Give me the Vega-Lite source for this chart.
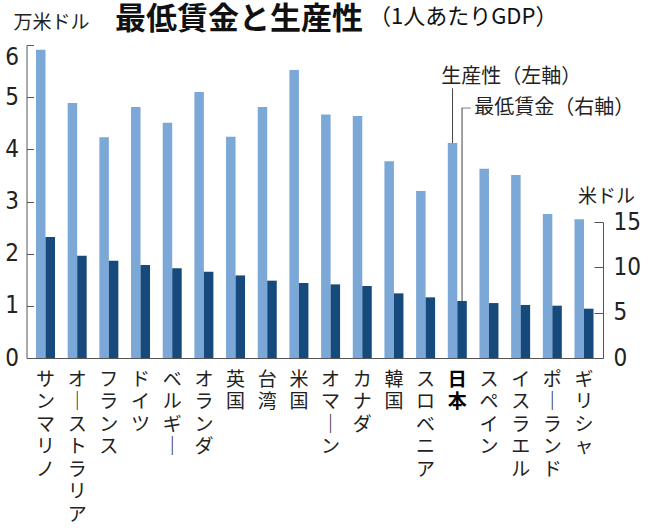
{
  "$schema": "https://vega.github.io/schema/vega-lite/v6.json",
  "autosize": "none",
  "width": 576.5,
  "height": 313,
  "padding": {"left": 26.5, "top": 45, "right": 47, "bottom": 170},
  "background": "white",
  "config": {"font": "Noto Sans CJK JP", "view": {"stroke": null}},
  "title": {
    "text": "最低賃金と生産性",
    "anchor": "start",
    "frame": "group",
    "dx": 88.5,
    "offset": -31,
    "font": "Noto Sans CJK JP",
    "fontSize": 31,
    "fontWeight": "bold",
    "color": "#111"
  },
  "datasets": {
    "main": [
      {"country": "サンマリノ", "productivity": 5.91, "wage": 13.34},
      {"country": "オーストラリア", "productivity": 4.89, "wage": 11.28},
      {"country": "フランス", "productivity": 4.23, "wage": 10.73},
      {"country": "ドイツ", "productivity": 4.81, "wage": 10.25},
      {"country": "ベルギー", "productivity": 4.51, "wage": 9.89},
      {"country": "オランダ", "productivity": 5.10, "wage": 9.52},
      {"country": "英国", "productivity": 4.24, "wage": 9.11},
      {"country": "台湾", "productivity": 4.81, "wage": 8.53},
      {"country": "米国", "productivity": 5.52, "wage": 8.27},
      {"country": "オマーン", "productivity": 4.67, "wage": 8.12},
      {"country": "カナダ", "productivity": 4.64, "wage": 7.94},
      {"country": "韓国", "productivity": 3.77, "wage": 7.13},
      {"country": "スロベニア", "productivity": 3.20, "wage": 6.69},
      {"country": "日本", "productivity": 4.12, "wage": 6.29},
      {"country": "スペイン", "productivity": 3.63, "wage": 6.06},
      {"country": "イスラエル", "productivity": 3.51, "wage": 5.85},
      {"country": "ポーランド", "productivity": 2.76, "wage": 5.77},
      {"country": "ギリシャ", "productivity": 2.66, "wage": 5.44}
    ]
  },
  "data": {"name": "main"},
  "encoding": {
    "x": {
      "field": "country",
      "type": "nominal",
      "sort": null,
      "scale": {"paddingInner": 0.4, "paddingOuter": 0.3},
      "axis": {
        "title": "（1人あたりGDP）",
        "titleFont": "Noto Sans CJK JP",
        "titleFontSize": 22,
        "titleFontWeight": "normal",
        "titleColor": "#111",
        "titleAlign": "left",
        "titleBaseline": "middle",
        "titleAngle": 0,
        "titleX": 342,
        "titleY": -342,
        "ticks": false,
        "domainColor": "#555",
        "domainWidth": 1,
        "labelAngle": 0,
        "labelAlign": "center",
        "labelBaseline": "top",
        "labelPadding": 12,
        "labelFontSize": 19,
        "labelLineHeight": 22.5,
        "labelFont": "Noto Sans CJK JP",
        "labelOverlap": false,
        "labelLimit": 0,
        "labelExpr": "split(join(split(datum.label, 'ー'), '｜'), '')",
        "labelColor": {"condition": {"test": "datum.value === '日本'", "value": "#000"}, "value": "#222"},
        "labelFontWeight": {"condition": {"test": "datum.value === '日本'", "value": "bold"}, "value": "normal"}
      }
    }
  },
  "layer": [
    {
      "layer": [
        {
          "mark": {"type": "bar", "width": 9.5, "xOffset": -4.75, "color": "#7ca8d7"},
          "encoding": {
            "y": {
              "field": "productivity",
              "type": "quantitative",
              "scale": {"domain": [0, 6], "nice": false},
              "axis": {
                "title": "万米ドル",
                "titleAngle": 0,
                "titleAlign": "left",
                "titleBaseline": "middle",
                "titleX": -13.5,
                "titleY": -23,
                "titleFontSize": 19,
                "titleFontWeight": "normal",
                "titleFont": "Noto Sans CJK JP",
                "titleColor": "#222",
                "values": [0, 1, 2, 3, 4, 5, 6],
                "grid": false,
                "tickSize": -7,
                "tickColor": "#555",
                "domainColor": "#555",
                "labelFont": "Liberation Sans Narrow, DejaVu Sans Condensed, sans-serif",
                "labelFontSize": 24,
                "labelPadding": 15,
                "labelColor": "#222",
                "labelBaseline": {"condition": {"test": "datum.value === 6", "value": "top"}, "value": "middle"}
              }
            }
          }
        },
        {
          "transform": [{"filter": "datum.country === '日本'"}],
          "mark": {"type": "rule", "xOffset": -4.75, "color": "#444", "strokeWidth": 1},
          "encoding": {
            "y": {"field": "productivity", "type": "quantitative", "scale": {"domain": [0, 6], "nice": false}},
            "y2": {"datum": 5.17}
          }
        },
        {
          "transform": [{"filter": "datum.country === '日本'"}],
          "mark": {"type": "text", "align": "left", "baseline": "middle", "dx": -16, "fontSize": 20, "color": "#222", "font": "Noto Sans CJK JP"},
          "encoding": {
            "y": {"datum": 5.38, "type": "quantitative", "scale": {"domain": [0, 6], "nice": false}},
            "text": {"value": "生産性（左軸）"}
          }
        },
        {
          "transform": [{"filter": "datum.country === '日本'"}],
          "mark": {"type": "text", "align": "left", "baseline": "middle", "dx": 17, "fontSize": 20, "color": "#222", "font": "Noto Sans CJK JP"},
          "encoding": {
            "y": {"datum": 4.79, "type": "quantitative", "scale": {"domain": [0, 6], "nice": false}},
            "text": {"value": "最低賃金（右軸）"}
          }
        }
      ]
    },
    {
      "layer": [
        {
          "mark": {"type": "bar", "width": 9.5, "xOffset": 4.75, "color": "#174a7c"},
          "encoding": {
            "y": {
              "field": "wage",
              "type": "quantitative",
              "scale": {"domain": [0, 15], "range": [313, 177], "nice": false},
              "axis": {
                "orient": "right",
                "title": "米ドル",
                "titleAngle": 0,
                "titleAlign": "center",
                "titleBaseline": "middle",
                "titleX": 3,
                "titleY": 151,
                "titleFontSize": 19,
                "titleFontWeight": "normal",
                "titleFont": "Noto Sans CJK JP",
                "titleColor": "#222",
                "values": [0, 5, 10, 15],
                "grid": false,
                "tickSize": -9,
                "tickColor": "#555",
                "domainColor": "#555",
                "labelFont": "Liberation Sans Narrow, DejaVu Sans Condensed, sans-serif",
                "labelFontSize": 24,
                "labelPadding": 19,
                "labelColor": "#222",
                "labelBaseline": "middle"
              }
            }
          }
        },
        {
          "transform": [{"filter": "datum.country === '日本'"}],
          "mark": {"type": "rule", "xOffset": 4.75, "color": "#444", "strokeWidth": 1},
          "encoding": {
            "y": {"field": "wage", "type": "quantitative", "scale": {"domain": [0, 15], "range": [313, 177], "nice": false}},
            "y2": {"datum": 27.57}
          }
        },
        {
          "transform": [{"filter": "datum.country === '日本'"}],
          "mark": {"type": "tick", "orient": "horizontal", "size": 9, "thickness": 1, "xOffset": 9, "color": "#444"},
          "encoding": {
            "y": {"datum": 27.57, "type": "quantitative", "scale": {"domain": [0, 15], "range": [313, 177], "nice": false}}
          }
        }
      ]
    }
  ],
  "resolve": {"scale": {"y": "independent"}, "axis": {"y": "independent"}}
}
